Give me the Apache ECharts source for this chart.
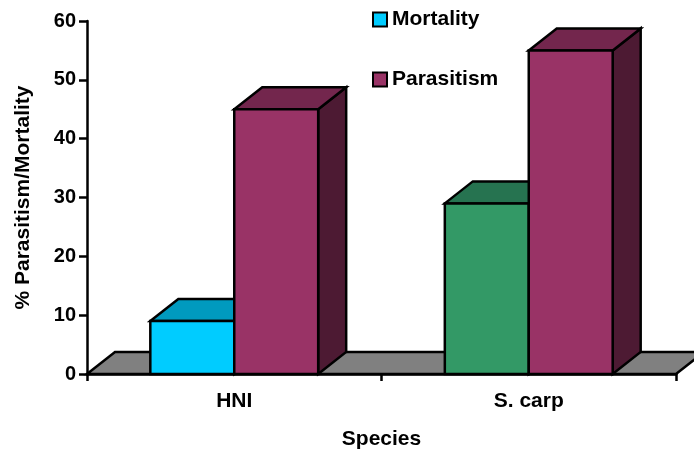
<!DOCTYPE html>
<html>
<head>
<meta charset="utf-8">
<script src="https://cdn.jsdelivr.net/npm/echarts@6/dist/echarts.min.js"></script>
<style>
  html, body { margin: 0; padding: 0; background: #fff; }
  #chart { width: 694px; height: 450px; }
</style>
</head>
<body>
<div id="chart"></div>
<script>
var categories = ['HNI', 'S. carp'];
var mortality = [9, 29];
var parasitism = [45, 55];

// the second mortality bar is green in the original
var mortalityColors = [
  { front: '#00CCFF', top: '#009ABF', side: '#007A99' },
  { front: '#339966', top: '#267350', side: '#1A4D33' }
];
var parasitismColors = [
  { front: '#993366', top: '#73264D', side: '#4D1A33' },
  { front: '#993366', top: '#73264D', side: '#4D1A33' }
];

var FONT = '"Liberation Sans", Arial, sans-serif';
var DEPTH_X = 28;
var DEPTH_Y = 22;
var BAR_RATIO = 0.285;
var EDGE = { stroke: '#000', lineWidth: 2.5, lineJoin: 'miter' };

function poly(points, fill) {
  return {
    type: 'polygon',
    shape: { points: points },
    style: Object.assign({ fill: fill }, EDGE)
  };
}

// one 3D box, side = -1 left of the category centre, 0 right of it
function boxRenderer(colors, side) {
  return function (params, api) {
    var i = api.value(0);
    var top = api.coord([i, api.value(1)]);
    var base = api.coord([i, 0]);
    var w = api.size([1, 0])[0] * BAR_RATIO;
    var x0 = top[0] + side * w;
    var x1 = x0 + w;
    var c = colors[i];
    return {
      type: 'group',
      children: [
        poly([[x1, base[1]], [x1 + DEPTH_X, base[1] - DEPTH_Y], [x1 + DEPTH_X, top[1] - DEPTH_Y], [x1, top[1]]], c.side),
        poly([[x0, top[1]], [x0 + DEPTH_X, top[1] - DEPTH_Y], [x1 + DEPTH_X, top[1] - DEPTH_Y], [x1, top[1]]], c.top),
        poly([[x0, base[1]], [x1, base[1]], [x1, top[1]], [x0, top[1]]], c.front)
      ]
    };
  };
}

function floorRenderer(params) {
  var r = params.coordSys;
  var y = r.y + r.height;
  return poly([[r.x, y], [r.x + DEPTH_X, y - DEPTH_Y], [r.x + r.width + DEPTH_X, y - DEPTH_Y], [r.x + r.width, y]], '#808080');
}

function toData(values) {
  return values.map(function (v, i) { return [i, v]; });
}

var chart = echarts.init(document.getElementById('chart'), null, { renderer: 'canvas' });
var titleStyle = { fontFamily: FONT, fontWeight: 'bold', fontSize: 21, color: '#000' };
var tickStyle = { fontFamily: FONT, fontWeight: 'bold', fontSize: 20, color: '#000' };
var axisLine = { show: true, lineStyle: { color: '#000', width: 2.5 } };

chart.setOption({
  animation: false,
  backgroundColor: '#fff',
  grid: { left: 87, top: 21, width: 589, height: 353, outerBoundsMode: 'none' },
  legend: {
    left: 367,
    top: 4,
    orient: 'vertical',
    itemWidth: 14,
    itemHeight: 14,
    itemGap: 39,
    data: [
      { name: 'Mortality', icon: 'rect' },
      { name: 'Parasitism', icon: 'rect' }
    ],
    textStyle: titleStyle,
    selectedMode: false
  },
  xAxis: {
    type: 'category',
    data: categories,
    name: 'Species',
    nameLocation: 'middle',
    nameGap: 55,
    nameTextStyle: titleStyle,
    axisLine: axisLine,
    axisTick: { show: true, length: 7, alignWithLabel: false, lineStyle: { color: '#000', width: 2.5 } },
    axisLabel: Object.assign({ margin: 17, interval: 0 }, titleStyle),
    splitLine: { show: false }
  },
  yAxis: {
    type: 'value',
    min: 0,
    max: 60,
    interval: 10,
    name: '% Parasitism/Mortality',
    nameLocation: 'middle',
    nameGap: 53,
    nameTextStyle: titleStyle,
    axisLine: axisLine,
    axisTick: { show: true, length: 8, lineStyle: { color: '#000', width: 2.5 } },
    axisLabel: Object.assign({ margin: 11 }, tickStyle),
    splitLine: { show: false }
  },
  series: [
    {
      name: 'floor',
      type: 'custom',
      z: 1,
      silent: true,
      data: [[0, 0]],
      encode: { x: 0, y: 1 },
      renderItem: floorRenderer
    },
    {
      name: 'Mortality',
      type: 'custom',
      z: 2,
      data: toData(mortality),
      encode: { x: 0, y: 1 },
      itemStyle: { color: '#00CCFF', borderColor: '#000', borderWidth: 2.5 },
      renderItem: boxRenderer(mortalityColors, -1)
    },
    {
      name: 'Parasitism',
      type: 'custom',
      z: 3,
      data: toData(parasitism),
      encode: { x: 0, y: 1 },
      itemStyle: { color: '#993366', borderColor: '#000', borderWidth: 2.5 },
      renderItem: boxRenderer(parasitismColors, 0)
    }
  ]
});
</script>
</body>
</html>
